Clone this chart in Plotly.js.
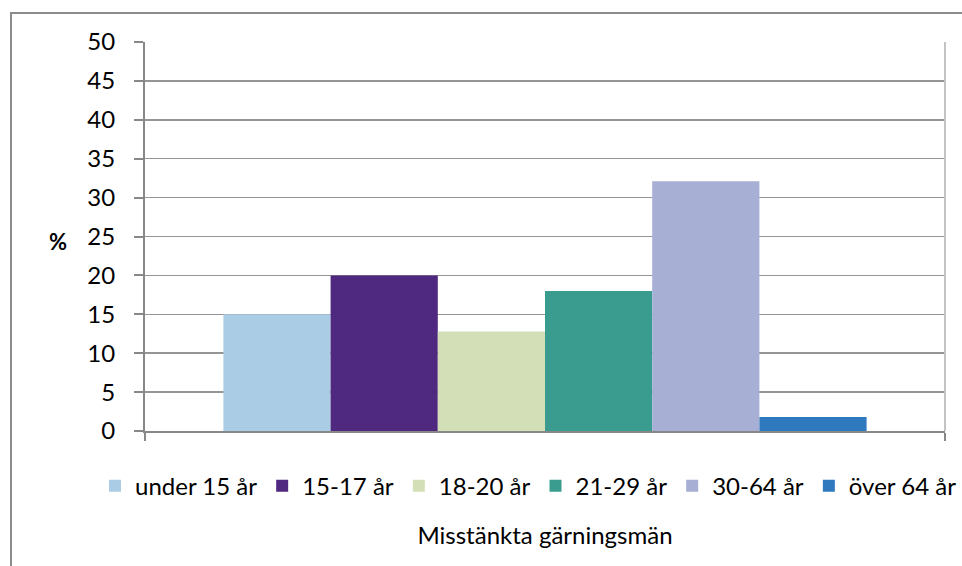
<!DOCTYPE html>
<html>
<head>
<meta charset="utf-8">
<script src="https://cdn.plot.ly/plotly-3.0.1.min.js"></script>
<style>html,body{margin:0;padding:0;background:#fff;}#chart{width:962px;height:566px;}</style>
</head>
<body>
<div id="chart"></div>
<script>
const seriesNames = ['under 15 år', '15-17 år', '18-20 år', '21-29 år', '30-64 år', 'över 64 år'];
const seriesValues = [15.0, 20.0, 12.8, 18.0, 32.1, 1.8];
const seriesColors = ['#aacde5', '#4f287f', '#d3e0b7', '#3a9c8e', '#a7afd4', '#2f7abf'];
const category = [0];
const yTickVals = [0, 5, 10, 15, 20, 25, 30, 35, 40, 45, 50];
const xTitle = 'Misstänkta gärningsmän';
const yTitle = '%';

const FONT = 'Lato, "Liberation Sans", sans-serif';

const traces = seriesNames.map((name, i) => ({
  type: 'bar',
  name: name,
  x: category,
  y: [seriesValues[i]],
  marker: {color: seriesColors[i], line: {width: 0}},
  hoverinfo: 'name+y'
}));

const layout = {
  width: 962,
  height: 566,
  margin: {l: 145, r: 17, t: 42, b: 135},
  paper_bgcolor: '#ffffff',
  plot_bgcolor: '#ffffff',
  font: {family: FONT, size: 24, color: '#000000'},
  barmode: 'group',
  bargap: 0.196,
  bargroupgap: 0,
  showlegend: true,
  legend: {
    orientation: 'h',
    x: -0.047, xanchor: 'left',
    y: -0.142, yanchor: 'middle',
    font: {family: FONT, size: 24, color: '#000'},
    itemclick: false,
    traceorder: 'normal'
  },
  xaxis: {
    type: 'linear',
    range: [-0.5, 0.5],
    tickvals: [-0.5, 0.5],
    ticktext: ['', ''],
    ticks: 'outside',
    ticklen: 8,
    tickwidth: 2,
    tickcolor: '#888888',
    showline: true,
    linecolor: '#888888',
    linewidth: 2,
    showgrid: false,
    zeroline: false,
    fixedrange: true,
    title: {text: xTitle, font: {family: FONT, size: 24, color: '#000'}, standoff: 82}
  },
  yaxis: {
    range: [0, 50],
    tickvals: yTickVals,
    ticks: 'outside',
    ticklen: 9,
    tickwidth: 2,
    tickcolor: '#888888',
    ticklabelstandoff: 14,
    showline: true,
    linecolor: '#888888',
    linewidth: 2,
    showgrid: true,
    gridcolor: '#959595',
    gridwidth: 1.5,
    zeroline: false,
    fixedrange: true,
    tickfont: {family: FONT, size: 24, color: '#000'}
  },
  annotations: [{
    text: '<b>' + yTitle + '</b>',
    xref: 'paper', yref: 'paper',
    x: -0.109, y: 0.488,
    xanchor: 'center', yanchor: 'middle',
    showarrow: false,
    font: {family: FONT, size: 22, color: '#000'}
  }],
  shapes: [
    {type: 'line', xref: 'paper', yref: 'paper', x0: 1, x1: 1, y0: 0, y1: 1,
     line: {color: '#c4c4c4', width: 2}},
    {type: 'rect', xref: 'paper', yref: 'paper', x0: -0.1675, x1: 1.04, y0: -0.36, y1: 1.0746,
     line: {color: '#8c8c8c', width: 2}, fillcolor: 'rgba(0,0,0,0)', layer: 'below'}
  ]
};

Plotly.newPlot('chart', traces, layout, {displayModeBar: false, staticPlot: true});
</script>
</body>
</html>
